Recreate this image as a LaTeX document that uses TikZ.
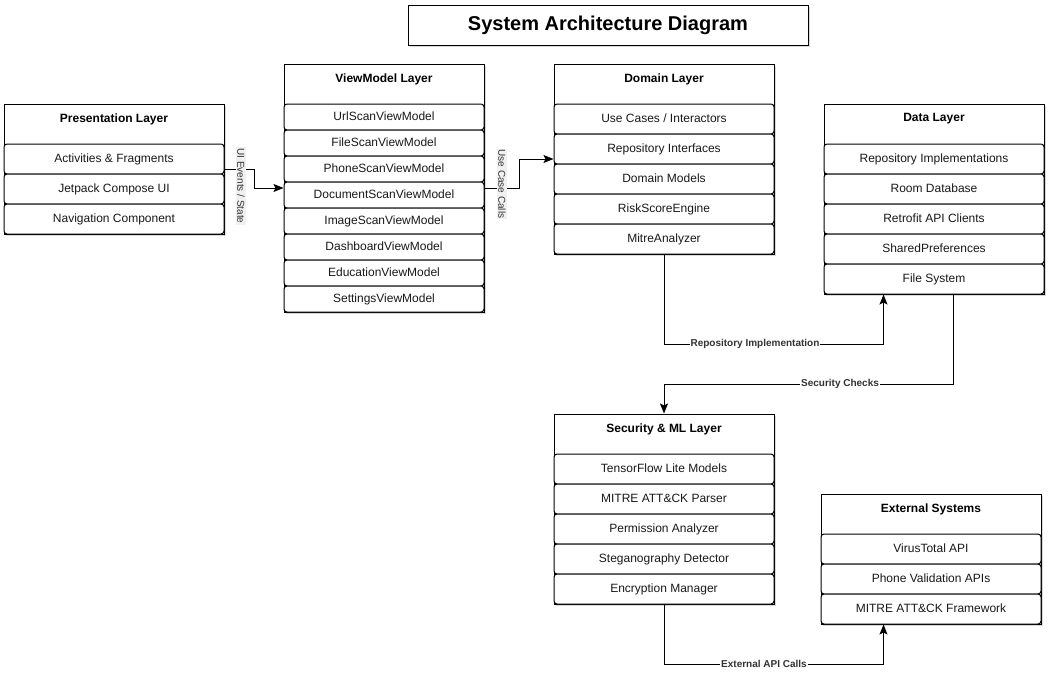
\documentclass[tikz,border=0pt]{standalone}
\usepackage{fontspec}
\setmainfont{Liberation Sans}
\usetikzlibrary{arrows.meta,shadows}
\tikzset{every node/.append style={font=\fontsize{12}{14}\selectfont, text=black!90}}
\tikzset{
  layer/.style={draw, line width=1pt, fill=white, inner sep=0pt,
    drop shadow={opacity=0.3, shadow xshift=2pt, shadow yshift=-2pt}},
  row/.style={draw, line width=1pt, fill=white, rounded corners=3pt, inner sep=0pt,
    minimum width=220pt, minimum height=30pt, text depth=1pt},
  hdr/.style={font=\fontsize{12}{14}\selectfont\bfseries, text=black},
  conn/.style={line width=1pt, -{Stealth[length=10pt, width=8pt, inset=2pt]}},
  hlabel/.style={fill=white, inner sep=1pt, font=\fontsize{10}{12}\selectfont\bfseries, text=black!80},
  vlabel/.style={fill=black!6, inner sep=1pt, rotate=-90, font=\fontsize{10}{12}\selectfont, text=black!80},
}

\begin{document}
\begin{tikzpicture}[x=1pt, y=-1pt]
    \useasboundingbox (0,0) rectangle (1051,680);

    % title
    \node[layer, minimum width=400pt, minimum height=40pt, font=\fontsize{20}{24}\selectfont\bfseries, text=black] (title) at (608,25) {System Architecture Diagram};

    % presentation
    \node[layer, minimum width=220pt, minimum height=130pt] (pres) at (114,169) {};
    \node[hdr] (presh) at (114,119) {Presentation Layer};
    \foreach \t [count=\i] in {Activities \& Fragments, Jetpack Compose UI, Navigation Component}
        \node[row] (pres\i) at (114,129+30*\i) {\t};

    % viewmodels
    \node[layer, minimum width=200pt, minimum height=248pt] (vm) at (384,188) {};
    \node[hdr] (vmh) at (384,79) {ViewModel Layer};
    \foreach \t [count=\i] in {UrlScanViewModel, FileScanViewModel, PhoneScanViewModel, DocumentScanViewModel,
        ImageScanViewModel, DashboardViewModel, EducationViewModel, SettingsViewModel}
        \node[row, minimum width=200pt, minimum height=26pt] (vm\i) at (384,91+26*\i) {\t};

    % domain
    \node[layer, minimum width=220pt, minimum height=190pt] (dom) at (664,159) {};
    \node[hdr] (domh) at (664,79) {Domain Layer};
    \foreach \t [count=\i] in {Use Cases / Interactors, Repository Interfaces, Domain Models, RiskScoreEngine, MitreAnalyzer}
        \node[row] (dom\i) at (664,89+30*\i) {\t};

    % data
    \node[layer, minimum width=220pt, minimum height=190pt] (data) at (934,199) {};
    \node[hdr] (datah) at (934,119) {Data Layer};
    \foreach \t [count=\i] in {Repository Implementations, Room Database, Retrofit API Clients, SharedPreferences, File System}
        \node[row] (data\i) at (934,129+30*\i) {\t};

    % security / ml
    \node[layer, minimum width=220pt, minimum height=190pt] (sec) at (664,509) {};
    \node[hdr] (sech) at (664,429) {Security \& ML Layer};
    \foreach \t [count=\i] in {TensorFlow Lite Models, MITRE ATT\&CK Parser, Permission Analyzer, Steganography Detector, Encryption Manager}
        \node[row] (sec\i) at (664,439+30*\i) {\t};

    % external
    \node[layer, minimum width=220pt, minimum height=130pt] (ext) at (931,559) {};
    \node[hdr] (exth) at (931,509) {External Systems};
    \foreach \t [count=\i] in {VirusTotal API, Phone Validation APIs, MITRE ATT\&CK Framework}
        \node[row] (ext\i) at (931,519+30*\i) {\t};

    % connectors
    \coordinate (datain) at ([xshift=60pt]data.south west);
    \coordinate (dataout) at ([xshift=130pt]data.south west);
    \coordinate (extin) at ([xshift=63pt]ext.south west);

    \draw[conn] (pres.east) -- ++(30,0) |- (vm.west);
    \node[vlabel] (uilbl) at (241,186) {UI Events / State};

    \draw[conn] (vm.east) -- ++(35,0) |- (dom.west);
    \node[vlabel] (uclbl) at (502,184) {Use Case Calls};

    \draw[conn] (dom.south) -- ++(0,90) -| (datain);
    \node[hlabel] (replbl) at (755,344) {Repository Implementation};

    \draw[conn] (dataout) -- ++(0,90) -| (sec.north);
    \node[hlabel] (seclbl) at (840,384) {Security Checks};

    \draw[conn] (sec.south) -- ++(0,60) -| (extin);
    \node[hlabel] (extlbl) at (764,664) {External API Calls};
\end{tikzpicture}
\end{document}
